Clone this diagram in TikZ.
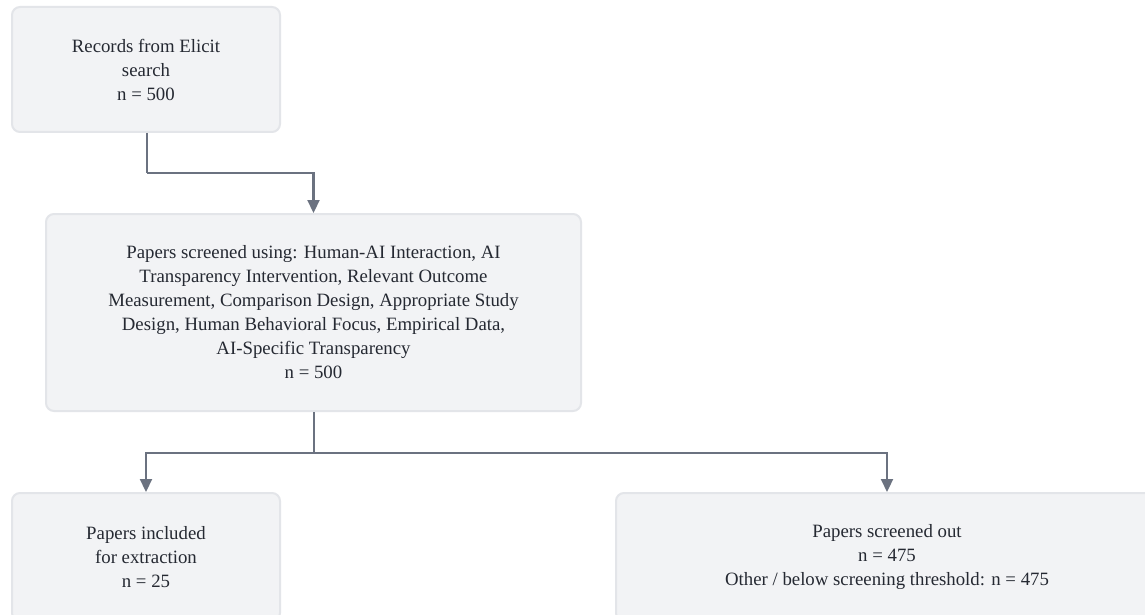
\documentclass[tikz,border=0pt]{standalone}
\usepackage{fontspec}
\setmainfont{Liberation Serif}
\usetikzlibrary{arrows.meta}
\definecolor{boxfill}{HTML}{F2F3F5}
\definecolor{boxline}{HTML}{E3E5E9}
\definecolor{conn}{HTML}{6B7280}
\definecolor{txt}{HTML}{252932}
\tikzset{
  flowbox/.style={draw=boxline, line width=2pt, fill=boxfill, rounded corners=8pt,
    align=center, text=txt, font=\fontsize{18.8}{24}\selectfont, inner sep=0pt},
  conn/.style={draw=conn, line width=2.2pt},
  arr/.style={conn, -{Triangle[length=13pt,width=12pt]}}
}
\begin{document}
\begin{tikzpicture}[x=1pt,y=-1pt]
\clip (0,0) rectangle (1145,615);
\fill[white] (0,0) rectangle (1145,615);
\node[flowbox, minimum width=268pt, minimum height=125pt] (b1) at (146,69.5)
  {Records from Elicit\\search\\n = 500};
\node[flowbox, minimum width=535pt, minimum height=197pt] (b2) at (313.5,312.5)
  {Papers screened using: Human-AI Interaction, AI\\
   Transparency Intervention, Relevant Outcome\\
   Measurement, Comparison Design, Appropriate Study\\
   Design, Human Behavioral Focus, Empirical Data,\\
   AI-Specific Transparency\\
   n = 500};
\node[flowbox, minimum width=268pt, minimum height=128pt] (b3) at (146,557)
  {Papers included\\for extraction\\n = 25};
\node[flowbox, minimum width=542pt, minimum height=128pt] (b4) at (887,557)
  {Papers screened out\\n = 475\\Other / below screening threshold: n = 475};
\coordinate (k) at (147,173);
\draw[conn] (b1.south -| k) -- (k);
\draw[arr] (k) -| (b2.north);
\coordinate (j) at (314,453);
\draw[conn] (b2.south -| j) -- (j);
\draw[arr] (j) -| (b3.north);
\draw[arr] (j) -| (b4.north);
\end{tikzpicture}
\end{document}
